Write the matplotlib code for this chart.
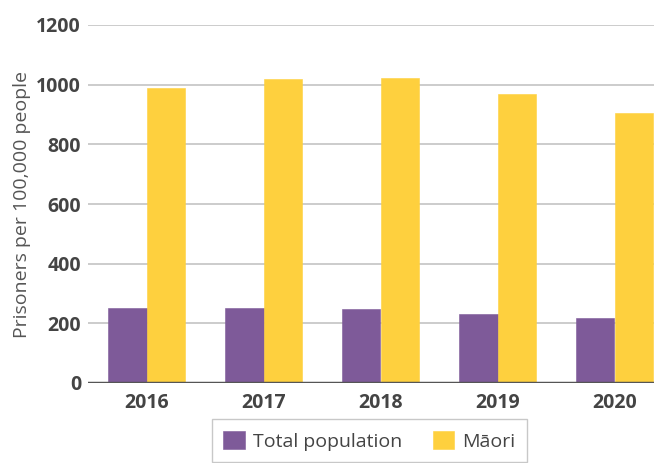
import numpy as np
import matplotlib.pyplot as plt

years = ['2016', '2017', '2018', '2019', '2020']
total_population = [251, 251, 248, 231, 218]
maori = [988, 1018, 1022, 968, 905]

purple = '#7E5A99'
yellow = '#FED03E'

fig = plt.figure(figsize=(6.54, 4.63), dpi=100)
ax = fig.add_axes([88 / 654, 80 / 463, 585 / 654, 358 / 463])

x = np.arange(len(years))
w = 0.325
ax.bar(x - w / 2, total_population, w, color=purple, edgecolor=purple,
       linewidth=0.4, label='Total population', zorder=3)
ax.bar(x + w / 2, maori, w, color=yellow, edgecolor=yellow,
       linewidth=0.4, label='Māori', zorder=3)

ax.set_xlim(-0.5, 4.5)
ax.set_ylim(0, 1200)
ax.set_yticks([0, 200, 400, 600, 800, 1000, 1200])
ax.set_xticks(x)
ax.set_xticklabels(years)
ax.yaxis.grid(True, color='#c8c8c8', linewidth=1.3, zorder=0)
ax.axhline(0, color='#555555', linewidth=2.5, zorder=4)

for s in ax.spines.values():
    s.set_visible(False)
ax.tick_params(length=0, labelsize=14, colors='#444444')
ax.tick_params(axis='x', pad=7)
ax.tick_params(axis='y', pad=5)
for lab in ax.get_xticklabels() + ax.get_yticklabels():
    lab.set_fontweight('bold')
    lab.set_family('Open Sans')

ax.set_ylabel('Prisoners per 100,000 people', fontsize=14, color='#555555',
              family='Open Sans', labelpad=4)

leg = fig.legend(loc='lower left', bbox_to_anchor=(202 / 654, -9 / 463), ncol=2,
                 frameon=True, fancybox=False, edgecolor='#bbbbbb',
                 prop={'family': 'Open Sans', 'size': 14}, handlelength=1.1,
                 handleheight=1.1, handletextpad=0.4, columnspacing=1.6,
                 borderpad=0.6)
for t in leg.get_texts():
    t.set_color('#444444')

fig.savefig('out.png', dpi=100)
